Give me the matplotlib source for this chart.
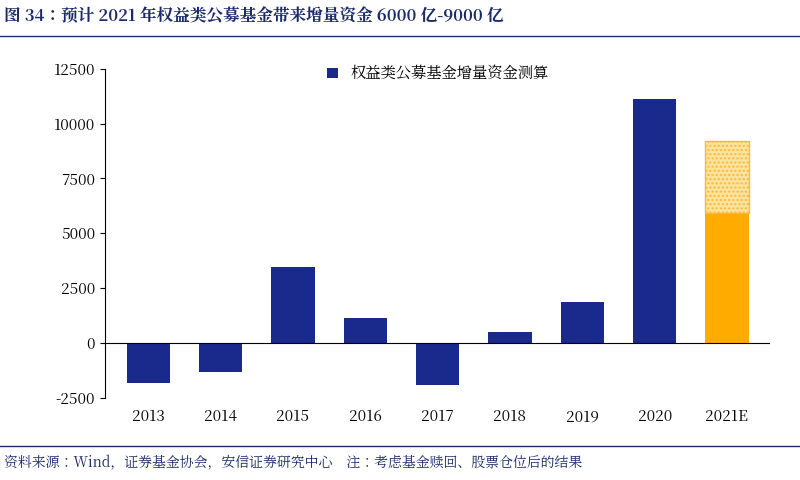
import matplotlib
matplotlib.use("Agg")
import matplotlib.pyplot as plt
from matplotlib import font_manager as fm

cjk = None
for f in fm.fontManager.ttflist:
    if 'CJK' in f.name and 'SC' in f.name:
        cjk = f.name
        break
if cjk is None:
    for path in fm.findSystemFonts():
        if 'CJK' in path:
            fm.fontManager.addfont(path)
            cjk = fm.FontProperties(fname=path).get_name()
            break
plt.rcParams['font.family'] = [cjk or 'Noto Sans CJK SC', 'DejaVu Sans']
plt.rcParams['axes.unicode_minus'] = False
plt.rcParams['hatch.color'] = '#f7c34a'

years = ["2013", "2014", "2015", "2016", "2017", "2018", "2019", "2020", "2021E"]
values = [-1830, -1300, 3470, 1140, -1910, 500, 1870, 11130, 5930]
est_upper = 9215
yticks = [-2500, 0, 2500, 5000, 7500, 10000, 12500]

fig = plt.figure(figsize=(8, 4.8), dpi=100)
ax = fig.add_axes([0.131, 0.171, 0.832, 0.686])
x = list(range(len(years)))
colors = ['#1a2a8c'] * 8 + ['#ffab00']
ax.bar(x, values, width=0.6, color=colors, label='权益类公募基金增量资金测算')
ax.bar(x[-1], est_upper - values[-1], bottom=values[-1], width=0.6,
       color='#fde3a0', edgecolor='#ffb833', hatch='....', linewidth=1)
ax.set_ylim(-2500, 12500)
ax.set_yticks(yticks)
ax.set_xlim(-0.6, 8.6)
ax.set_xticks(x)
ax.set_xticklabels(years)
ax.axhline(0, color='black', linewidth=0.8)
for s in ['top', 'right', 'bottom']:
    ax.spines[s].set_visible(False)
ax.tick_params(axis='x', length=0, labelsize=11, pad=8)
ax.tick_params(axis='y', labelsize=11, direction='out')
ax.spines['left'].set_linewidth(0.8)
ax.legend(loc='upper center', bbox_to_anchor=(0.5, 1.05), frameon=False, fontsize=11,
          handlelength=0.7, handleheight=0.7)

fig.text(0.005, 0.965, '图 34：预计 2021 年权益类公募基金带来增量资金 6000 亿-9000 亿',
         fontsize=12, fontweight='bold', color='#1a2a6c', va='center')
fig.add_artist(plt.Line2D([0, 1], [0.925, 0.925], color='#1a2a6c', linewidth=1))
fig.add_artist(plt.Line2D([0, 1], [0.07, 0.07], color='#1a2a6c', linewidth=1))
fig.text(0.005, 0.035, '资料来源：Wind，证券基金协会，安信证券研究中心    注：考虑基金赎回、股票仓位后的结果',
         fontsize=10, style='italic', color='#1a2a6c', va='center')
fig.savefig('out.png')
